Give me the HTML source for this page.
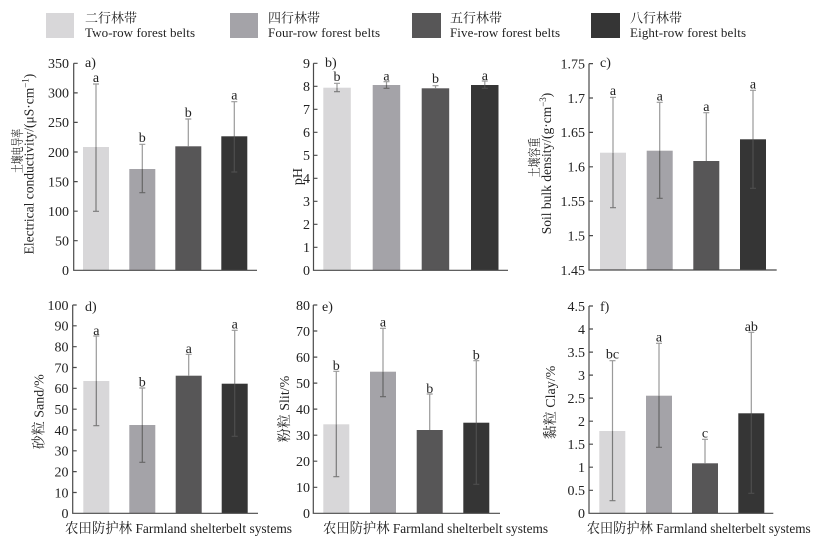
<!DOCTYPE html>
<html><head><meta charset="utf-8"><style>
html,body{margin:0;padding:0;background:#fff;}
svg{display:block;}
text{font-family:"Liberation Serif","Noto Serif CJK SC",serif;fill:#222;}
.t{font-size:14px;text-anchor:end;}
.l{font-size:14px;text-anchor:middle;}
.ax{stroke:#4a4a4a;stroke-width:1.2;fill:none;}
.up{stroke:#9a9a9a;stroke-width:1.2;fill:none;}
.lo1{stroke:#7a7a7a;stroke-width:1.2;fill:none;}
.lo2{stroke:#666;stroke-width:1.2;fill:none;}
.lo4{stroke:#4e4e4e;stroke-width:1.2;fill:none;}
</style></head><body>
<svg width="827" height="544" viewBox="0 0 827 544" xmlns="http://www.w3.org/2000/svg">
<!-- Legend -->
<rect x="46" y="13" width="28" height="25" fill="#d8d7d9"/>
<text x="85" y="22.5" font-size="13">二行林带</text>
<text x="85" y="37" font-size="13" textLength="110">Two-row forest belts</text>
<rect x="230" y="13" width="28" height="25" fill="#a4a3a8"/>
<text x="268" y="22.5" font-size="13">四行林带</text>
<text x="268" y="37" font-size="13" textLength="112">Four-row forest belts</text>
<rect x="412" y="13" width="29" height="25" fill="#575657"/>
<text x="450" y="22.5" font-size="13">五行林带</text>
<text x="450" y="37" font-size="13" textLength="110">Five-row forest belts</text>
<rect x="591" y="13" width="29" height="25" fill="#353535"/>
<text x="630" y="22.5" font-size="13">八行林带</text>
<text x="630" y="37" font-size="13" textLength="116">Eight-row forest belts</text>

<!-- ===== Panel a ===== -->
<g transform="translate(22,151) rotate(-90)"><text transform="scale(0.68,1)" font-size="13" text-anchor="middle">土壤电导率</text></g>
<text transform="translate(33.5,164) rotate(-90)" font-size="13.5" text-anchor="middle">Electrical conductivity/(μS·cm<tspan font-size="9" dy="-5">−1</tspan><tspan dy="5">)</tspan></text>
<rect x="83" y="147" width="26" height="123.3" fill="#d8d7d9"/>
<rect x="129.3" y="169" width="26" height="101.3" fill="#a4a3a8"/>
<rect x="175.3" y="146.3" width="26" height="124" fill="#575657"/>
<rect x="221.3" y="136.3" width="26" height="134" fill="#353535"/>
<path class="up" d="M96 84V147M93 84H99M142.3 144.3V169M139.3 144.3H145.3M188.3 119V146.3M185.3 119H191.3M234.3 101.7V136.3M231.3 101.7H237.3"/>
<path class="lo1" d="M96 147V211.3M93 211.3H99"/>
<path class="lo2" d="M142.3 169V192.7M139.3 192.7H145.3"/>
<path class="lo4" d="M234.3 136.3V172M231.3 172H237.3"/>
<text class="l" x="96" y="82">a</text>
<text class="l" x="142.3" y="142">b</text>
<text class="l" x="188.3" y="117">b</text>
<text class="l" x="234.3" y="99.5">a</text>
<path class="ax" d="M73.7 63.3V270.3H257M73.7 63.3h4M73.7 92.9h4M73.7 122.4h4M73.7 152h4M73.7 181.6h4M73.7 211.2h4M73.7 240.7h4"/>
<text class="t" x="69" y="68.1">350</text>
<text class="t" x="69" y="97.7">300</text>
<text class="t" x="69" y="127.2">250</text>
<text class="t" x="69" y="156.8">200</text>
<text class="t" x="69" y="186.4">150</text>
<text class="t" x="69" y="216">100</text>
<text class="t" x="69" y="245.5">50</text>
<text class="t" x="69" y="275.1">0</text>
<text x="85" y="67" font-size="14">a)</text>

<!-- ===== Panel b ===== -->
<text transform="translate(302,176.5) rotate(-90)" font-size="14" text-anchor="middle">pH</text>
<rect x="323.3" y="87.7" width="27.5" height="182.6" fill="#d8d7d9"/>
<rect x="372.7" y="85" width="27.5" height="185.3" fill="#a4a3a8"/>
<rect x="421.7" y="88.3" width="27.5" height="182" fill="#575657"/>
<rect x="471" y="85" width="27.5" height="185.3" fill="#353535"/>
<path class="up" d="M337 83.3V87.7M334 83.3H340M386.5 81.7V85M383.5 81.7H389.5M435.5 85.7V88.3M432.5 85.7H438.5M484.8 81V85M481.8 81H487.8"/>
<path class="lo1" d="M337 87.7V91.7M334 91.7H340"/>
<path class="lo2" d="M386.5 85V88.3M383.5 88.3H389.5"/>
<path class="lo4" d="M484.8 85V88.3M481.8 88.3H487.8"/>
<text class="l" x="337" y="81">b</text>
<text class="l" x="386.5" y="80.5">a</text>
<text class="l" x="435.5" y="83">b</text>
<text class="l" x="484.8" y="80">a</text>
<path class="ax" d="M313.5 63.3V270.3H508M313.5 63.3h4M313.5 86.3h4M313.5 109.3h4M313.5 132.3h4M313.5 155.3h4M313.5 178.3h4M313.5 201.3h4M313.5 224.3h4M313.5 247.3h4"/>
<text class="t" x="310" y="68.1">9</text>
<text class="t" x="310" y="91.1">8</text>
<text class="t" x="310" y="114.1">7</text>
<text class="t" x="310" y="137.1">6</text>
<text class="t" x="310" y="160.1">5</text>
<text class="t" x="310" y="183.1">4</text>
<text class="t" x="310" y="206.1">3</text>
<text class="t" x="310" y="229.1">2</text>
<text class="t" x="310" y="252.1">1</text>
<text class="t" x="310" y="275.1">0</text>
<text x="325" y="67" font-size="14">b)</text>

<!-- ===== Panel c ===== -->
<g transform="translate(539,157.5) rotate(-90)"><text transform="scale(0.76,1)" font-size="13" text-anchor="middle">土壤容重</text></g>
<text transform="translate(551,163.5) rotate(-90)" font-size="13.5" text-anchor="middle">Soil bulk density/(g·cm<tspan font-size="9" dy="-5">−3</tspan><tspan dy="5">)</tspan></text>
<rect x="600" y="152.7" width="26" height="117.3" fill="#d8d7d9"/>
<rect x="646.7" y="150.7" width="26" height="119.3" fill="#a4a3a8"/>
<rect x="693.3" y="161" width="26" height="109" fill="#575657"/>
<rect x="740" y="139.3" width="26" height="130.7" fill="#353535"/>
<path class="up" d="M613 97.3V152.7M610 97.3H616M659.7 102.3V150.7M656.7 102.3H662.7M706.3 112.7V161M703.3 112.7H709.3M753 90.3V139.3M750 90.3H756"/>
<path class="lo1" d="M613 152.7V207.7M610 207.7H616"/>
<path class="lo2" d="M659.7 150.7V198.3M656.7 198.3H662.7"/>
<path class="lo4" d="M753 139.3V188.3M750 188.3H756"/>
<text class="l" x="613" y="95">a</text>
<text class="l" x="659.7" y="100.5">a</text>
<text class="l" x="706.3" y="111">a</text>
<text class="l" x="753" y="88.5">a</text>
<path class="ax" d="M589 63.6V270H776.7M589 63.6h4M589 98h4M589 132.4h4M589 166.8h4M589 201.2h4M589 235.6h4"/>
<text class="t" x="585" y="68.4">1.75</text>
<text class="t" x="585" y="102.8">1.7</text>
<text class="t" x="585" y="137.2">1.65</text>
<text class="t" x="585" y="171.6">1.6</text>
<text class="t" x="585" y="206">1.55</text>
<text class="t" x="585" y="240.4">1.5</text>
<text class="t" x="585" y="274.8">1.45</text>
<text x="600" y="67" font-size="14">c)</text>

<!-- ===== Panel d ===== -->
<text transform="translate(43.5,411.7) rotate(-90)" font-size="14" text-anchor="middle">砂粒 Sand/%</text>
<rect x="83.3" y="381" width="26" height="132.3" fill="#d8d7d9"/>
<rect x="129.3" y="425" width="26" height="88.3" fill="#a4a3a8"/>
<rect x="175.7" y="375.7" width="26" height="137.6" fill="#575657"/>
<rect x="221.7" y="383.7" width="26" height="129.6" fill="#353535"/>
<path class="up" d="M96.3 336V381M93.3 336H99.3M142.3 388V425M139.3 388H145.3M188.7 354.3V375.7M185.7 354.3H191.7M234.7 330.3V383.7M231.7 330.3H237.7"/>
<path class="lo1" d="M96.3 381V425.7M93.3 425.7H99.3"/>
<path class="lo2" d="M142.3 425V462.3M139.3 462.3H145.3"/>
<path class="lo4" d="M234.7 383.7V436.3M231.7 436.3H237.7"/>
<text class="l" x="96.3" y="335">a</text>
<text class="l" x="142.3" y="386.5">b</text>
<text class="l" x="188.7" y="353">a</text>
<text class="l" x="234.7" y="328.5">a</text>
<path class="ax" d="M72.7 305V513.3H258M72.7 305h4M72.7 325.8h4M72.7 346.7h4M72.7 367.5h4M72.7 388.3h4M72.7 409.2h4M72.7 430h4M72.7 450.8h4M72.7 471.6h4M72.7 492.5h4"/>
<text class="t" x="68.5" y="309.8">100</text>
<text class="t" x="68.5" y="330.6">90</text>
<text class="t" x="68.5" y="351.5">80</text>
<text class="t" x="68.5" y="372.3">70</text>
<text class="t" x="68.5" y="393.1">60</text>
<text class="t" x="68.5" y="414">50</text>
<text class="t" x="68.5" y="434.8">40</text>
<text class="t" x="68.5" y="455.6">30</text>
<text class="t" x="68.5" y="476.4">20</text>
<text class="t" x="68.5" y="497.3">10</text>
<text class="t" x="68.5" y="518.1">0</text>
<text x="85" y="311" font-size="14">d)</text>
<text x="178.5" y="533" font-size="14" text-anchor="middle" textLength="227" lengthAdjust="spacingAndGlyphs">农田防护林 Farmland shelterbelt systems</text>

<!-- ===== Panel e ===== -->
<text transform="translate(289,409) rotate(-90)" font-size="14" text-anchor="middle">粉粒 Slit/%</text>
<rect x="323.3" y="424.3" width="26" height="89" fill="#d8d7d9"/>
<rect x="370" y="371.7" width="26" height="141.6" fill="#a4a3a8"/>
<rect x="416.7" y="430" width="26" height="83.3" fill="#575657"/>
<rect x="463.3" y="422.7" width="26" height="90.6" fill="#353535"/>
<path class="up" d="M336.3 371.3V424.3M333.3 371.3H339.3M383 328.3V371.7M380 328.3H386M429.7 394V430M426.7 394H432.7M476.3 360.7V422.7M473.3 360.7H479.3"/>
<path class="lo1" d="M336.3 424.3V476.7M333.3 476.7H339.3"/>
<path class="lo2" d="M383 371.7V396.7M380 396.7H386"/>
<path class="lo4" d="M476.3 422.7V484.3M473.3 484.3H479.3"/>
<text class="l" x="336.3" y="370">b</text>
<text class="l" x="383" y="326.7">a</text>
<text class="l" x="429.7" y="393">b</text>
<text class="l" x="476.3" y="359.5">b</text>
<path class="ax" d="M313.3 305V513.3H500M313.3 305h4M313.3 331h4M313.3 357.1h4M313.3 383.1h4M313.3 409.1h4M313.3 435.2h4M313.3 461.2h4M313.3 487.3h4"/>
<text class="t" x="310" y="309.8">80</text>
<text class="t" x="310" y="335.8">70</text>
<text class="t" x="310" y="361.9">60</text>
<text class="t" x="310" y="387.9">50</text>
<text class="t" x="310" y="413.9">40</text>
<text class="t" x="310" y="440">30</text>
<text class="t" x="310" y="466">20</text>
<text class="t" x="310" y="492.1">10</text>
<text class="t" x="310" y="518.1">0</text>
<text x="322" y="311" font-size="14">e)</text>
<text x="435.5" y="533" font-size="14" text-anchor="middle" textLength="225" lengthAdjust="spacingAndGlyphs">农田防护林 Farmland shelterbelt systems</text>

<!-- ===== Panel f ===== -->
<text transform="translate(555,402.5) rotate(-90)" font-size="14" text-anchor="middle">黏粒 Clay/%</text>
<rect x="599.3" y="431" width="26" height="82.3" fill="#d8d7d9"/>
<rect x="646" y="395.7" width="26" height="117.6" fill="#a4a3a8"/>
<rect x="692" y="463.3" width="26" height="50" fill="#575657"/>
<rect x="738.3" y="413.3" width="26" height="100" fill="#353535"/>
<path class="up" d="M612.5 360.7V431M609.5 360.7H615.5M659 343.3V395.7M656 343.3H662M705 439.3V463.3M702 439.3H708M751.3 332.3V413.3M748.3 332.3H754.3"/>
<path class="lo1" d="M612.5 431V500.7M609.5 500.7H615.5"/>
<path class="lo2" d="M659 395.7V447.3M656 447.3H662"/>
<path class="lo4" d="M751.3 413.3V493.3M748.3 493.3H754.3"/>
<text class="l" x="612.5" y="358.5">bc</text>
<text class="l" x="659" y="341.7">a</text>
<text class="l" x="705" y="437.5">c</text>
<text class="l" x="751.3" y="331">ab</text>
<path class="ax" d="M589 306V513.3H773.3M589 306h4M589 329h4M589 352.1h4M589 375.1h4M589 398.1h4M589 421.2h4M589 444.2h4M589 467.2h4M589 490.3h4"/>
<text class="t" x="585" y="310.8">4.5</text>
<text class="t" x="585" y="333.8">4</text>
<text class="t" x="585" y="356.9">3.5</text>
<text class="t" x="585" y="379.9">3</text>
<text class="t" x="585" y="402.9">2.5</text>
<text class="t" x="585" y="426">2</text>
<text class="t" x="585" y="449">1.5</text>
<text class="t" x="585" y="472">1</text>
<text class="t" x="585" y="495.1">0.5</text>
<text class="t" x="585" y="518.1">0</text>
<text x="600" y="311" font-size="14">f)</text>
<text x="698.7" y="533" font-size="14" text-anchor="middle" textLength="224" lengthAdjust="spacingAndGlyphs">农田防护林 Farmland shelterbelt systems</text>
</svg>
</body></html>
